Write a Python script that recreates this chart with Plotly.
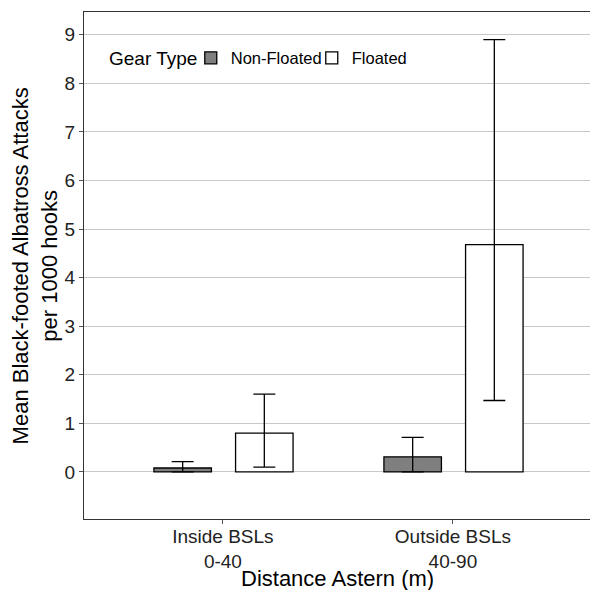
import plotly.graph_objects as go

categories = ["Inside BSLs<br>0-40", "Outside BSLs<br>40-90"]
nonfloated_mean = [0.08, 0.31]
nonfloated_upper = [0.21, 0.71]
nonfloated_lower = [0.0, 0.0]
floated_mean = [0.80, 4.68]
floated_upper = [1.60, 8.90]
floated_lower = [0.10, 1.47]
y_ticks = [0, 1, 2, 3, 4, 5, 6, 7, 8, 9]
y_title = "Mean Black-footed Albatross Attacks<br>per 1000 hooks"
x_title = "Distance Astern (m)"
legend_title = "Gear Type"

font_family = "Liberation Sans, Arial, sans-serif"

def err(mean, up, lo):
    return dict(type="data", symmetric=False,
                array=[u - m for u, m in zip(up, mean)],
                arrayminus=[m - l for m, l in zip(mean, lo)],
                color="black", thickness=1.3, width=11)

fig = go.Figure()
fig.add_trace(go.Bar(
    x=categories, y=nonfloated_mean, name="Non-Floated",
    marker=dict(color="#7f7f7f", line=dict(color="black", width=1.3)),
    width=0.25, offset=-0.30,
    error_y=err(nonfloated_mean, nonfloated_upper, nonfloated_lower),
))
fig.add_trace(go.Bar(
    x=categories, y=floated_mean, name="Floated",
    marker=dict(color="white", line=dict(color="black", width=1.3)),
    width=0.25, offset=0.055,
    error_y=err(floated_mean, floated_upper, floated_lower),
))

for i in range(len(categories)):
    fig.add_shape(type="line", xref="x", yref="paper", x0=i, x1=i, y0=0, y1=1,
                  line=dict(color="white", width=2), layer="below")

fig.add_annotation(text=y_title, xref="paper", yref="paper", x=-0.097, y=0.5,
                   xanchor="center", yanchor="middle", textangle=-90,
                   showarrow=False, font=dict(size=22, color="black"))
fig.add_annotation(text=x_title, xref="paper", yref="paper", x=0.5, y=-0.118,
                   xanchor="center", yanchor="middle",
                   showarrow=False, font=dict(size=22, color="black"))
fig.add_annotation(text=legend_title, xref="paper", yref="paper", x=0.045, y=0.909,
                   xanchor="left", yanchor="middle",
                   showarrow=False, font=dict(size=19, color="black"))

fig.update_layout(
    width=590, height=590,
    margin=dict(l=84, r=0, t=12, b=71),
    plot_bgcolor="white", paper_bgcolor="white",
    font=dict(family=font_family, color="black"),
    showlegend=True,
    legend=dict(orientation="h", x=0.211, y=0.909, xanchor="left", yanchor="middle",
                font=dict(size=16.5), bgcolor="rgba(0,0,0,0)", itemwidth=30,
                entrywidth=76, entrywidthmode="pixels",
                tracegroupgap=0),
    barmode="overlay",
    xaxis=dict(
        range=[-0.604, 1.596], showgrid=False,
        showline=True, linecolor="#333333", linewidth=1, mirror=True,
        ticks="outside", ticklen=4, tickcolor="#555555",
        tickfont=dict(size=19, color="#222222"), ticklabelstandoff=-4,
        categoryorder="array", categoryarray=categories,
        automargin=False,
    ),
    yaxis=dict(
        range=[-0.97, 9.47], tickvals=y_ticks,
        showgrid=True, gridcolor="#c8c8c8", gridwidth=1, zeroline=False,
        showline=True, linecolor="#333333", linewidth=1, mirror=False,
        ticks="outside", ticklen=4, tickcolor="#555555",
        tickfont=dict(size=19, color="#222222"),
        automargin=False,
    ),
)

fig.write_html("out.html", config={"displayModeBar": False},
               post_script="document.body.style.margin='0';document.body.style.overflow='hidden';")
